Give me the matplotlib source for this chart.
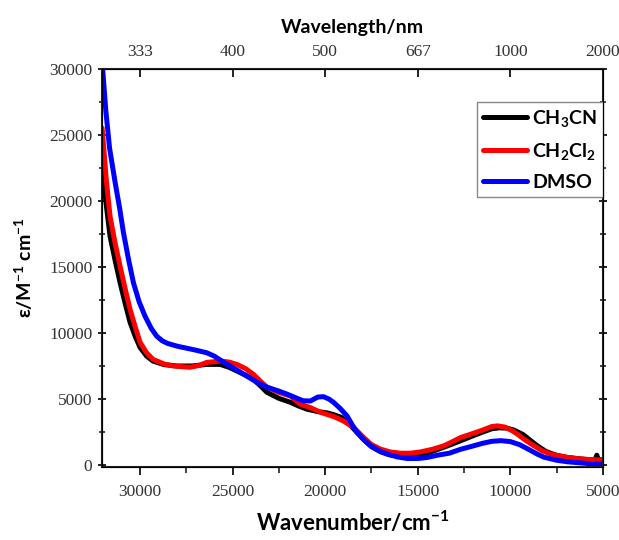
import numpy as np
import matplotlib
matplotlib.use("Agg")
import matplotlib.pyplot as plt
from matplotlib.ticker import MultipleLocator

plt.rcParams['mathtext.fontset'] = 'custom'
plt.rcParams['mathtext.bf'] = 'Lato:bold'
plt.rcParams['mathtext.rm'] = 'Lato:bold'
plt.rcParams['mathtext.default'] = 'bf'

# spectra: wavenumber (cm-1) vs epsilon (M-1 cm-1)
wn_ch3cn = [32050, 31820, 31620, 31350, 31080, 30800, 30540, 30250, 30000, 29650, 29300,
            28700, 28000, 27200, 26400, 25670, 25200, 24770, 24300, 23880, 23500,
            23150, 22500, 21880, 21400, 20980, 20400, 19900, 19550, 19100, 18700,
            18300, 17900, 17500, 17000, 16500, 15900, 15400, 14850, 14200, 13600,
            13220, 12680, 12140, 11500, 11000, 10600, 10200, 9800, 9300, 8900,
            8540, 8100, 7600, 7000, 6300, 5700, 5420, 5330, 5250, 5000]
eps_ch3cn = [22600, 19600, 17300, 15500, 13800, 12200, 10800, 9700, 8900, 8250, 7870,
             7600, 7500, 7500, 7620, 7620, 7400, 7120, 6800, 6490, 6000,
             5510, 5050, 4750, 4450, 4230, 4050, 3950, 3820, 3600, 3100,
             2500, 1900, 1400, 1000, 780, 650, 660, 780, 1050, 1350,
             1550, 1850, 2150, 2500, 2750, 2820, 2800, 2650, 2300, 1850,
             1460, 1050, 780, 600, 480, 400, 380, 750, 420, 400]

wn_ch2cl2 = [32050, 31820, 31620, 31350, 31080, 30800, 30540, 30250, 30000, 29650, 29300,
             28700, 28200, 27300, 26800, 26400, 25670, 25200, 24770, 24300, 23880,
             23500, 23150, 22500, 21880, 21340, 20800, 20260, 19500, 19020, 18470,
             17930, 17500, 17010, 16500, 15930, 15400, 14850, 14200, 13600, 13220,
             12680, 12140, 11500, 11000, 10700, 10300, 9900, 9610, 9200, 8720,
             8300, 7810, 7300, 6910, 6300, 5700, 5290, 5000]
eps_ch2cl2 = [25500, 21500, 18800, 16800, 15050, 13300, 11780, 10400, 9290, 8500, 8000,
              7650, 7500, 7400, 7550, 7770, 7870, 7800, 7620, 7300, 6870,
              6350, 5900, 5500, 5230, 4600, 4350, 4000, 3650, 3340, 2860,
              2100, 1550, 1210, 1000, 900, 900, 1000, 1200, 1460, 1710,
              2090, 2340, 2650, 2920, 2970, 2880, 2600, 2340, 1900, 1460,
              1100, 830, 680, 580, 480, 420, 400, 380]

wn_dmso = [32050, 31850, 31650, 31350, 31100, 30900, 30630, 30360, 30050, 29730, 29400,
           29100, 28800, 28500, 28000, 27000, 26400, 26000, 25500, 25130, 24600,
           24230, 23600, 23150, 22500, 22060, 21600, 21200, 20800, 20400, 20100,
           19800, 19550, 19200, 18820, 18500, 18280, 17900, 17550, 17100, 16650,
           16100, 15570, 15000, 14490, 13900, 13300, 12680, 12140, 11500, 11000,
           10500, 10000, 9500, 9000, 8500, 8180, 7500, 6900, 6300, 5800, 5600, 5300, 5000]
eps_dmso = [30500, 26800, 24000, 21400, 19400, 17600, 15600, 13800, 12350, 11260, 10350,
            9750, 9400, 9200, 9000, 8700, 8500, 8250, 7800, 7480, 7050,
            6730, 6200, 5900, 5600, 5370, 5100, 4870, 4850, 5150, 5180,
            5000, 4750, 4300, 3720, 2950, 2490, 1900, 1460, 1100, 830,
            620, 500, 500, 580, 760, 900, 1200, 1400, 1650, 1800,
            1850, 1780, 1550, 1180, 800, 600, 370, 250, 180, 120, 50, 80, 60]

top_ticks = [30000, 25000, 20000, 15000, 10000, 5000]
top_labels = ['333', '400', '500', '667', '1000', '2000']

fig = plt.figure(figsize=(6.19, 5.40), dpi=100)
ax = fig.add_axes([0.165, 0.135, 0.809, 0.738])

ax.plot(wn_ch3cn, eps_ch3cn, color='black', lw=3.6, label=r'CH$_3$CN', solid_capstyle='round', solid_joinstyle='round')
ax.plot(wn_ch2cl2, eps_ch2cl2, color='#ff0000', lw=3.6, label=r'CH$_2$Cl$_2$', solid_capstyle='round', solid_joinstyle='round')
ax.plot(wn_dmso, eps_dmso, color='#0000ff', lw=3.6, label='DMSO', solid_capstyle='round', solid_joinstyle='round')

ax.set_xlim(32050, 5000)
ax.set_ylim(-150, 30000)
ax.xaxis.set_major_locator(MultipleLocator(5000))
ax.xaxis.set_minor_locator(MultipleLocator(2500))
ax.yaxis.set_major_locator(MultipleLocator(5000))
ax.yaxis.set_minor_locator(MultipleLocator(2500))

for lab in ax.get_xticklabels() + ax.get_yticklabels():
    lab.set_fontfamily('Liberation Serif')
    lab.set_fontsize(12.5)
ax.tick_params(axis='both', which='major', direction='out', length=6, width=1.4, colors='#222222', labelcolor='#333333')
ax.tick_params(axis='both', which='minor', direction='out', length=4, width=1.2, colors='#222222')
ax.tick_params(axis='y', which='both', right=True, direction='inout')
ax.tick_params(axis='x', pad=6)
ax.tick_params(axis='y', pad=4)
for s in ax.spines.values():
    s.set_linewidth(1.5)
    s.set_color('#222222')

ax2 = ax.twiny()
ax2.set_xlim(ax.get_xlim())
ax2.set_xticks(top_ticks)
ax2.set_xticklabels(top_labels, fontfamily='Liberation Serif', fontsize=12.5, color='#333333')
ax2.tick_params(axis='x', direction='in', length=6, width=1.4, colors='#222222', labelcolor='#333333', pad=6)
ax2.set_xlabel('Wavelength/nm', fontfamily='Lato', fontweight='bold', fontsize=14, labelpad=8)

ax.set_xlabel(r'Wavenumber/cm$^{-1}$', fontfamily='Lato', fontweight='bold', fontsize=16)
ax.xaxis.set_label_coords(0.5, -0.108)
ax.set_ylabel(r'ε/M$^{-1}$ cm$^{-1}$', fontfamily='Lato', fontweight='bold', fontsize=14)
ax.yaxis.set_label_coords(-0.134, 0.5)

leg = ax.legend(loc='upper right', bbox_to_anchor=(1.0, 0.916), borderaxespad=0,
                prop={'family': 'Lato', 'weight': 'bold', 'size': 14},
                fancybox=False, handlelength=2.3, handletextpad=0.25,
                borderpad=0.3, labelspacing=0.62, framealpha=1)
leg.get_frame().set_edgecolor('#888888')
leg.get_frame().set_linewidth(1.0)

fig.savefig('out.png', dpi=100)
